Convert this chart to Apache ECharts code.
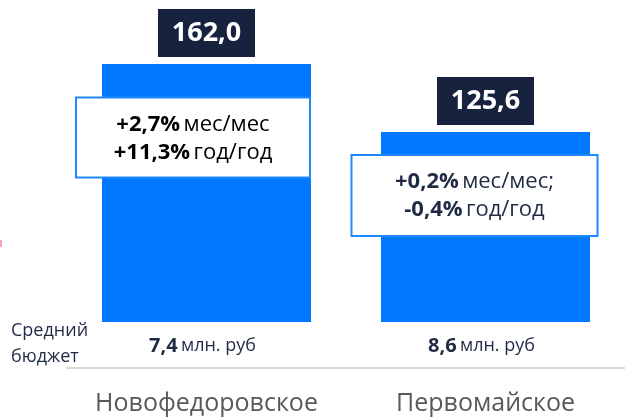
<!DOCTYPE html>
<html>
<head>
<meta charset="utf-8">
<script src="https://cdn.jsdelivr.net/npm/echarts@6/dist/echarts.min.js"></script>
<style>
  html, body { margin: 0; padding: 0; background: #fff; }
  #main { width: 625px; height: 420px; }
</style>
</head>
<body>
<div id="main"></div>
<script>
// данные
var categories = ['Новофедоровское', 'Первомайское'];
var prices = [162.0, 125.6];
var priceLabels = ['162,0', '125,6'];
var momValues = ['+2,7%', '+0,2%'];
var momText = ['мес/мес', 'мес/мес;'];
var yoyValues = ['+11,3%', '-0,4%'];
var yoyText = ['год/год', 'год/год'];
var budgets = ['7,4', '8,6'];

var FONT = 'Open Sans';
var myChart = echarts.init(document.getElementById('main'));

// плашки с изменениями
var boxPos = [[91, 73.5], [93.5, 63.5]];
var boxSize = [[232, 78], [244, 79]];
var boxColor = ['#000000', '#1F2A44'];

var noteData = prices.map(function (v, i) {
    return {
        value: v,
        label: {
            position: boxPos[i],
            width: boxSize[i][0],
            height: boxSize[i][1] - 24,
            formatter: '{b|' + momValues[i] + '} {r|' + momText[i] + '}\n{b|' + yoyValues[i] + '} {r|' + yoyText[i] + '}',
            rich: {
                b: { fontFamily: FONT, fontSize: 22, fontWeight: 'bold', color: boxColor[i], lineHeight: 28 },
                r: { fontFamily: FONT, fontSize: 22, color: boxColor[i], lineHeight: 28 }
            }
        }
    };
});

var option = {
    animation: false,
    grid: { left: 67, right: -6, top: 30.35, bottom: 98 },
    xAxis: [
        {
            type: 'category',
            data: categories,
            position: 'bottom',
            offset: 46,
            axisLine: { lineStyle: { color: '#D9D9D9', width: 2 } },
            axisTick: { show: false },
            axisLabel: { interval: 0, hideOverlap: false, fontFamily: FONT, fontSize: 25, color: '#595959', margin: 23 }
        },
        {
            type: 'category',
            data: categories,
            position: 'bottom',
            offset: 0,
            axisLine: { show: false },
            axisTick: { show: false },
            axisLabel: {
                interval: 0,
                margin: 14,
                padding: [0, 8, 0, 0],
                formatter: function (val, i) {
                    return '{b|' + budgets[i] + '} {r|млн. руб}';
                },
                rich: {
                    b: { fontFamily: FONT, fontSize: 20, fontWeight: 'bold', color: '#1F2A44' },
                    r: { fontFamily: FONT, fontSize: 18, color: '#1F2A44' }
                }
            }
        }
    ],
    yAxis: {
        type: 'value',
        min: 24,
        max: 180,
        show: false
    },
    series: [
        {
            type: 'bar',
            data: prices,
            barWidth: 209,
            itemStyle: { color: '#0078FF' },
            label: {
                show: true,
                position: 'top',
                distance: 7,
                formatter: function (p) { return priceLabels[p.dataIndex]; },
                backgroundColor: '#17223F',
                color: '#fff',
                fontFamily: FONT,
                fontSize: 27,
                fontWeight: 'bold',
                width: 69,
                height: 30,
                lineHeight: 30,
                align: 'center',
                padding: [9, 14]
            }
        },
        {
            type: 'bar',
            data: noteData,
            barWidth: 209,
            barGap: '-100%',
            itemStyle: { color: 'rgba(0,0,0,0)' },
            z: 5,
            label: {
                show: true,
                align: 'center',
                verticalAlign: 'middle',
                backgroundColor: '#fff',
                borderColor: '#1E88FF',
                borderWidth: 2,
                padding: [12, 0]
            }
        }
    ],
    graphic: [
        { type: 'text', left: 11, top: 322, style: { text: 'Средний', fontFamily: FONT, fontSize: 18, fill: '#1F2A44' } },
        { type: 'text', left: 11, top: 348, style: { text: 'бюджет', fontFamily: FONT, fontSize: 18, fill: '#1F2A44' } },
        { type: 'rect', left: 0, top: 240, shape: { width: 2, height: 7 }, style: { fill: '#F4A6B8' } }
    ]
};
myChart.setOption(option);
</script>
</body>
</html>
